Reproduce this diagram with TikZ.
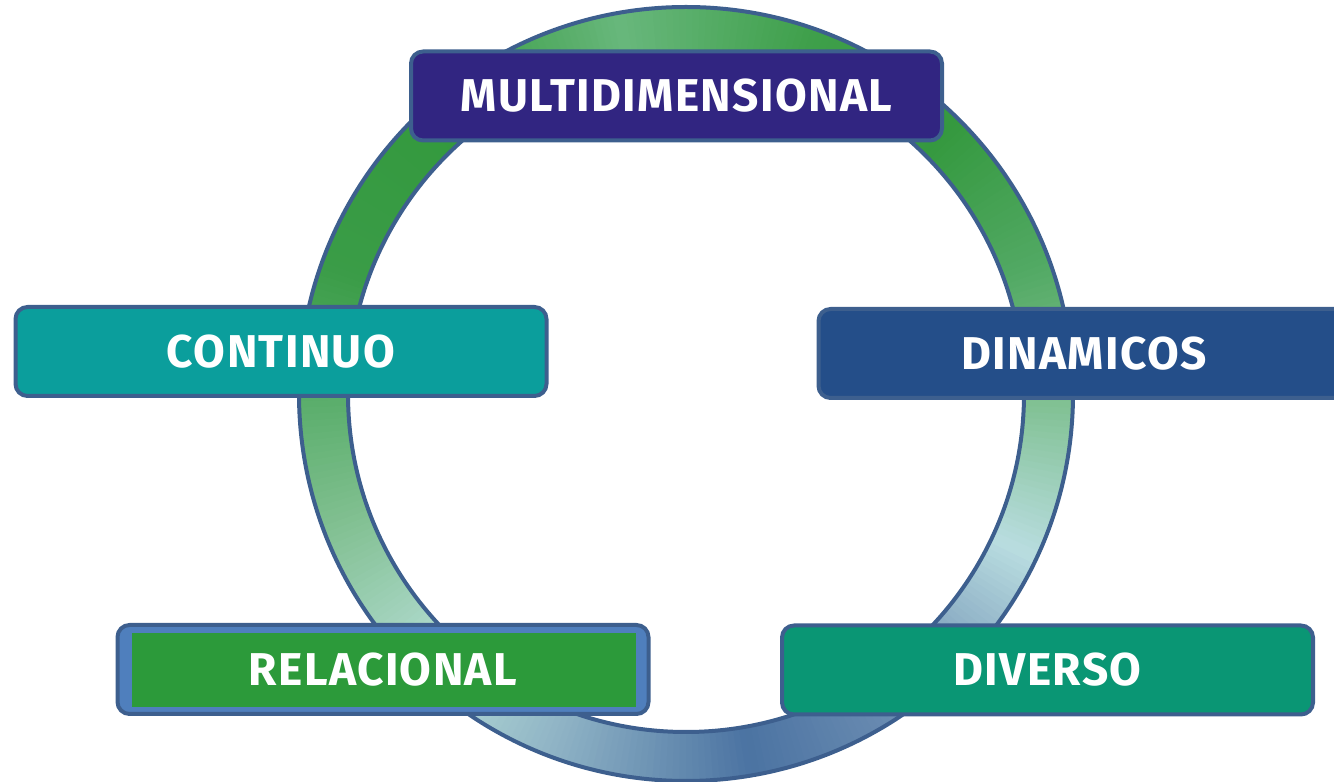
\documentclass[tikz,border=0pt]{standalone}
\usepackage{fontspec}
\setmainfont{Fira Sans}
\definecolor{multic}{HTML}{312581}
\definecolor{continc}{HTML}{0B9E9C}
\definecolor{dinamc}{HTML}{244E89}
\definecolor{diversoc}{HTML}{0A9674}
\definecolor{relgreen}{HTML}{2C9A3A}
\definecolor{relblue}{HTML}{4F7FBD}
\definecolor{edgec}{HTML}{3D5F8E}
% ring key colours
\definecolor{k0}{HTML}{7DBF8E}
\definecolor{k20}{HTML}{52A964}
\definecolor{k45}{HTML}{35993F}
\definecolor{k70}{HTML}{3E9F4A}
\definecolor{k100}{HTML}{68B77C}
\definecolor{k130}{HTML}{33993D}
\definecolor{k160}{HTML}{3A9C47}
\definecolor{k180}{HTML}{58AD69}
\definecolor{k200}{HTML}{80BF90}
\definecolor{k228}{HTML}{B6DED6}
\definecolor{k250}{HTML}{8EB2C5}
\definecolor{k280}{HTML}{4B73A2}
\definecolor{k310}{HTML}{7494B6}
\definecolor{k335}{HTML}{B9DDE0}
\definecolor{k360}{HTML}{7DBF8E}
\tikzset{
  label box/.style={draw=edgec, line width=4pt, rounded corners=12pt,
    minimum width=531pt, minimum height=89pt, text=white,
    font=\fontsize{46}{50}\selectfont\bfseries\addfontfeature{LetterSpace=3}, inner sep=0pt},
  ring edge/.style={draw=edgec, line width=4pt}
}
\begin{document}
\begin{tikzpicture}[x=1pt,y=1pt]
\useasboundingbox (0,0) rectangle (1334,782);
% ring
\coordinate (c) at (686,388);
\begin{scope}[shift={(686,388)}]
\foreach \a/\b/\ca/\cb in {0/20/k0/k20,20/45/k20/k45,45/70/k45/k70,70/100/k70/k100,100/130/k100/k130,130/160/k130/k160,160/180/k160/k180,180/200/k180/k200,200/228/k200/k228,228/250/k228/k250,250/280/k250/k280,280/310/k280/k310,310/335/k310/k335,335/360/k335/k360}{
  \pgfmathtruncatemacro\e{\b-1}
  \foreach \x in {\a,...,\e}{
    \pgfmathsetmacro\p{100*(\x+0.5-\a)/(\b-\a)}
    \pgfmathsetmacro\xe{\x+1.6}
    \fill[\cb!\p!\ca] (\x:387) arc[start angle=\x, end angle=\xe, radius=387] -- (\xe:338) arc[start angle=\xe, end angle=\x, radius=338] -- cycle;
  }
}
\end{scope}
\draw[ring edge] (c) circle (387);
\draw[ring edge] (c) circle (338);
% boxes
\node[label box, fill=multic] (multi) at (676.5,686) {MULTIDIMENSIONAL};
\node[label box, fill=continc] (contin) at (281,430.5) {CONTINUO};
\node[label box, fill=dinamc] (dinam) at (1084,428.5) {DINAMICOS};
\node[label box, fill=relblue, path picture={\fill[relgreen, sharp corners] ([xshift=14pt,yshift=7pt]path picture bounding box.south west) rectangle ([xshift=-13pt,yshift=-8pt]path picture bounding box.north east);}] (rel) at (383,112.5) {RELACIONAL};
\node[label box, fill=diversoc] (divers) at (1047.5,112) {DIVERSO};
\end{tikzpicture}
\end{document}
